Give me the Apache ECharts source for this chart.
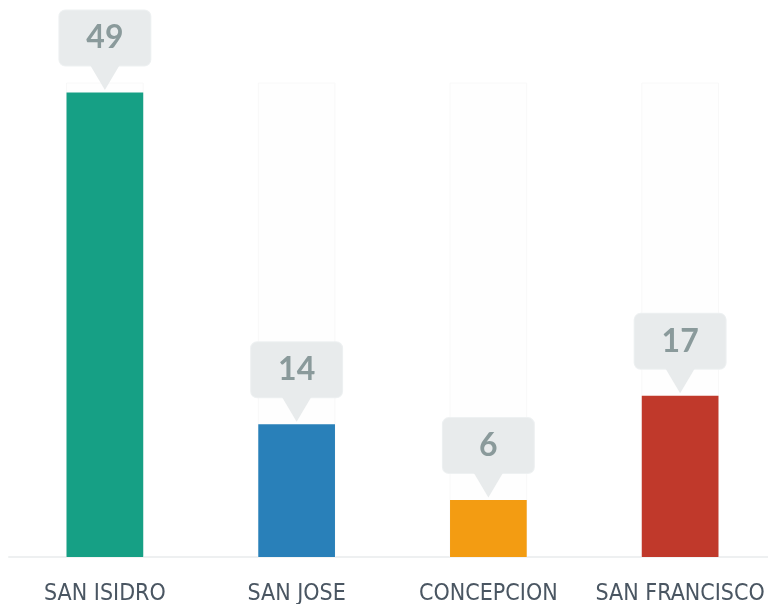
<!DOCTYPE html>
<html>
<head>
<meta charset="utf-8">
<script src="https://cdn.jsdelivr.net/npm/echarts@6/dist/echarts.min.js"></script>
<style>
  html, body { margin: 0; padding: 0; background: #fff; }
  #chart { width: 768px; height: 604px; }
</style>
</head>
<body>
<div id="chart"></div>
<script>
const categories = ['SAN ISIDRO', 'SAN JOSE', 'CONCEPCION', 'SAN FRANCISCO']
const values = [49, 14, 6, 17]
const barColors = ['#16a085', '#2980b9', '#f39c12', '#c0392b']

const CALLOUT = '#e8ebec'
const chart = echarts.init(document.getElementById('chart'))

chart.setOption({
  animation: false,
  grid: { left: 9, width: 767, top: 83, bottom: 47, outerBoundsMode: 'none', containLabel: false },
  xAxis: {
    type: 'category', data: categories,
    axisTick: { show: false },
    axisLine: { lineStyle: { color: '#eef0f1', width: 2 } },
    axisLabel: {
      interval: 0, color: '#4a5662', fontSize: 23, margin: 26,
      fontFamily: '"Liberation Sans Narrow", "DejaVu Sans Condensed", sans-serif',
    },
    splitLine: { show: false },
  },
  yAxis: { type: 'value', min: 0, max: 50, show: false },
  series: [
    {
      type: 'bar', barWidth: '40%',
      data: values.map((v, i) => ({ value: v, itemStyle: { color: barColors[i] } })),
      showBackground: true,
      backgroundStyle: { color: '#fefefe', borderColor: '#f8f8f8', borderWidth: 1 },
      label: {
        show: true, position: 'top', distance: 27,
        formatter: '{a|{c}}',
        rich: {
          a: {
            width: 91, height: 55, align: 'center', verticalAlign: 'middle',
            backgroundColor: CALLOUT, borderColor: '#eef1f2', borderWidth: 1,
            borderRadius: 6, color: '#8a9a9b', fontSize: 32, fontWeight: 'bold',
            fontFamily: 'Lato, "Open Sans", sans-serif',
          },
        },
      },
      z: 2,
    },
    {
      // pointer of the callout
      type: 'scatter', data: values,
      symbol: 'triangle', symbolRotate: 180, symbolSize: [32, 27],
      symbolOffset: [0, -16],
      itemStyle: { color: CALLOUT, opacity: 1 },
      silent: true, z: 3,
    },
  ],
})
</script>
</body>
</html>
